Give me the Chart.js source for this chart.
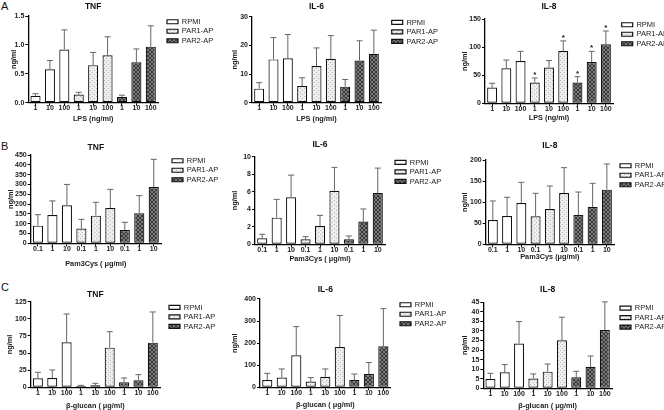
<!DOCTYPE html>
<html><head><meta charset="utf-8">
<script src="https://cdn.jsdelivr.net/npm/chart.js@4.4.1/dist/chart.umd.min.js"></script>
<style>
html,body{margin:0;padding:0;background:#fff;overflow:hidden;width:664px;height:410px;position:relative}
canvas{position:absolute}
.lt{position:absolute;font:11px 'Liberation Sans',Arial,sans-serif;color:#111;line-height:11px}
</style></head><body>
<div class="lt" style="left:1px;top:1px">A</div>
<div class="lt" style="left:1px;top:141px">B</div>
<div class="lt" style="left:1px;top:282px">C</div>
<script>
// ---------- data ----------
const groups = ['RPMI', 'PAR1-AP', 'PAR2-AP'];
const lpsDoses = ['1', '10', '100'];
const pamDoses = ['0.1', '1', '10'];
const glucanDoses = ['1', '10', '100'];

const lpsTnfMean = [0.12, 0.58, 0.92, 0.14, 0.65, 0.82, 0.10, 0.70, 0.97];
const lpsTnfErr  = [0.035, 0.15, 0.34, 0.04, 0.22, 0.32, 0.03, 0.23, 0.36];
const lpsIl6Mean = [4.9, 15.1, 15.5, 5.8, 12.8, 15.3, 5.6, 14.7, 17.1];
const lpsIl6Err  = [2.1, 7.6, 8.3, 2.9, 6.3, 8.1, 2.5, 6.9, 8.2];
const lpsIl8Mean = [27.9, 62.3, 75.3, 36.8, 63.5, 93, 36.8, 73.5, 105];
const lpsIl8Err  = [7.7, 14.7, 17.2, 8.2, 12.5, 18, 10.6, 19, 23.7];
const lpsIl8Stars = [0, 0, 0, 1, 0, 1, 1, 1, 1];

const pamTnfMean = [90, 144, 194, 75, 141, 180, 68, 153, 287];
const pamTnfErr  = [56, 72, 106, 47, 68, 95, 39, 90, 141];
const pamIl6Mean = [0.68, 3.04, 5.36, 0.57, 2.09, 6.12, 0.57, 2.59, 5.86];
const pamIl6Err  = [0.46, 2.09, 2.54, 0.30, 1.21, 2.66, 0.38, 1.44, 2.84];
const pamIl8Mean = [57.7, 67.2, 98, 66.4, 83.8, 121.7, 69.6, 88.5, 129.6];
const pamIl8Err  = [45.1, 44.3, 49, 54.6, 54.5, 60.1, 54.4, 56.2, 60.9];

const gluTnfMean = [13.1, 13.6, 65.7, 1.9, 2.9, 57.9, 7.3, 10.2, 65.2];
const gluTnfErr  = [8.8, 11.7, 41.3, 1.0, 2.9, 23.3, 6.3, 8.3, 44.8];
const gluIl6Mean = [33, 44, 145, 26, 48, 183, 33, 60, 186];
const gluIl6Err  = [30, 39, 130, 18, 35, 142, 27, 52, 170];
const gluIl8Mean = [4.9, 8.4, 23.4, 5.1, 8.7, 25.1, 5.8, 11.3, 30.5];
const gluIl8Err  = [2.95, 4.0, 11.5, 2.4, 4.0, 12.1, 3.1, 5.6, 14.7];

const lpsTnfTicks = ['0.0', '0.5', '1.0', '1.5'];
const lpsIl6Ticks = ['0', '10', '20', '30'];
const lpsIl8Ticks = ['0', '50', '100', '150'];
const pamTnfTicks = ['0', '50', '100', '150', '200', '250', '300', '350', '400', '450'];
const pamIl6Ticks = ['0', '2', '4', '6', '8', '10'];
const pamIl8Ticks = ['0', '50', '100', '150', '200'];
const gluTnfTicks = ['0', '25', '50', '75', '100', '125'];
const gluIl6Ticks = ['0', '100', '200', '300', '400'];
const gluIl8Ticks = ['0', '5', '10', '15', '20', '25', '30', '35', '40', '45'];

const lpsAxisTitle = 'LPS (ng/ml)';
const pamAxisTitle = 'Pam3Cys ( μg/ml)';
const pamAxisTitle2 = 'Pam3Cys (μg/ml)';
const gluAxisTitle = 'β-glucan ( μg/ml)';
const yAxisTitle = 'ng/ml';

// ---------- layout (pixel geometry of each panel) ----------
const geom = [
  {L:0,   T:0,   axisX:28.3,  right:158,   top:16,    bottom:102.7, boxX:167,   titleY:7,     ylabX:14,  xlabY:118.3},
  {L:220, T:0,   axisX:252,   right:381,   top:16.7,  bottom:102.7, boxX:391.7, titleY:7,     ylabX:235, xlabY:118.3},
  {L:440, T:0,   axisX:485,   right:613,   top:19,    bottom:103.3, boxX:621.7, titleY:7,     ylabX:465, xlabY:117.7},
  {L:0,   T:130, axisX:30.7,  right:161,   top:155,   bottom:243.3, boxX:172,   titleY:147.3, ylabX:11,  xlabY:263.3},
  {L:220, T:130, axisX:255,   right:385,   top:156.7, bottom:244.3, boxX:395,   titleY:145,   ylabX:235, xlabY:258.3},
  {L:440, T:130, axisX:485.7, right:614,   top:160,   bottom:244.3, boxX:620,   titleY:145.7, ylabX:465, xlabY:256.5},
  {L:0,   T:270, axisX:30.7,  right:160,   top:301.7, bottom:387.3, boxX:169,   titleY:295,   ylabX:10,  xlabY:406},
  {L:220, T:270, axisX:260,   right:390.6, top:299,   bottom:387.3, boxX:400,   titleY:289.3, ylabX:235, xlabY:405},
  {L:440, T:270, axisX:483.3, right:612,   top:302.3, bottom:388.3, boxX:620,   titleY:290,   ylabX:465, xlabY:406}
];

const panels = [
  {title:'TNF',  mean:lpsTnfMean, err:lpsTnfErr, ticks:lpsTnfTicks, doses:lpsDoses, xTitle:lpsAxisTitle, stars:null},
  {title:'IL-6', mean:lpsIl6Mean, err:lpsIl6Err, ticks:lpsIl6Ticks, doses:lpsDoses, xTitle:lpsAxisTitle, stars:null},
  {title:'IL-8', mean:lpsIl8Mean, err:lpsIl8Err, ticks:lpsIl8Ticks, doses:lpsDoses, xTitle:lpsAxisTitle, stars:lpsIl8Stars},
  {title:'TNF',  mean:pamTnfMean, err:pamTnfErr, ticks:pamTnfTicks, doses:pamDoses, xTitle:pamAxisTitle, stars:null},
  {title:'IL-6', mean:pamIl6Mean, err:pamIl6Err, ticks:pamIl6Ticks, doses:pamDoses, xTitle:pamAxisTitle, stars:null},
  {title:'IL-8', mean:pamIl8Mean, err:pamIl8Err, ticks:pamIl8Ticks, doses:pamDoses, xTitle:pamAxisTitle2, stars:null},
  {title:'TNF',  mean:gluTnfMean, err:gluTnfErr, ticks:gluTnfTicks, doses:glucanDoses, xTitle:gluAxisTitle, stars:null},
  {title:'IL-6', mean:gluIl6Mean, err:gluIl6Err, ticks:gluIl6Ticks, doses:glucanDoses, xTitle:gluAxisTitle, stars:null},
  {title:'IL-8', mean:gluIl8Mean, err:gluIl8Err, ticks:gluIl8Ticks, doses:glucanDoses, xTitle:gluAxisTitle, stars:null}
];

// ---------- styles ----------
const FONT = "'Liberation Sans', Arial, sans-serif";
Chart.defaults.font.family = FONT;
Chart.defaults.color = '#222';

function makePattern(bg, fg, kind) {
  const c = document.createElement('canvas');
  c.width = 4; c.height = 4;
  const x = c.getContext('2d');
  x.fillStyle = bg; x.fillRect(0, 0, 4, 4);
  x.fillStyle = fg;
  if (kind === 'dots') {
    x.fillRect(0, 0, 1, 1); x.fillRect(2, 2, 1, 1);
  } else {
    for (let i = 0; i < 4; i++) { x.fillRect(i, i, 1, 1); x.fillRect(3 - i, i, 1, 1); }
  }
  return x.createPattern(c, 'repeat');
}
const fills = ['#ffffff', makePattern('#eeeeee', '#b8b8b8', 'dots'), makePattern('#7a7a7a', '#3a3a3a', 'hatch')];

const TITLE_SIZE = 8.5, AXIS_SIZE = 7.3, TICK_SIZE = 7, LEG_SIZE = 7.5, LEG_PAD = 2, LEG_BOX = 11;

const errorBars = {
  id: 'errorBars',
  afterDatasetsDraw(chart) {
    const ctx = chart.ctx, y = chart.scales.y;
    chart.data.datasets.forEach((ds, di) => {
      const meta = chart.getDatasetMeta(di);
      meta.data.forEach((bar, i) => {
        const v = ds.data[i];
        if (v == null) return;
        const top = y.getPixelForValue(v + ds.errors[i]);
        const half = bar.width * 0.3;
        ctx.save();
        ctx.strokeStyle = '#666';
        ctx.lineWidth = 1;
        ctx.beginPath();
        ctx.moveTo(bar.x, bar.y);
        ctx.lineTo(bar.x, top);
        ctx.moveTo(bar.x - half, top);
        ctx.lineTo(bar.x + half, top);
        ctx.stroke();
        if (ds.stars && ds.stars[i]) {
          ctx.fillStyle = '#111';
          ctx.font = 'bold 8px ' + FONT;
          ctx.textAlign = 'center';
          ctx.textBaseline = 'alphabetic';
          ctx.fillText('*', bar.x, top - 1);
        }
        ctx.restore();
      });
    });
  }
};

panels.forEach((p, k) => {
  const g = geom[k];
  const legendLeft = g.boxX - LEG_PAD;
  const W = Math.round(legendLeft + 52 - g.L);
  const H = Math.round(g.xlabY + AXIS_SIZE * 0.6 - g.T);
  const cv = document.createElement('canvas');
  cv.width = W; cv.height = H;
  cv.style.left = g.L + 'px'; cv.style.top = g.T + 'px';
  document.body.appendChild(cv);

  const labels = [].concat(p.doses, p.doses, p.doses);
  const pick = (arr, gi) => arr.map((v, i) => (Math.floor(i / 3) === gi ? v : null));
  const datasets = groups.map((name, gi) => ({
    label: name,
    data: pick(p.mean, gi),
    errors: pick(p.err, gi),
    stars: p.stars ? pick(p.stars, gi) : null,
    backgroundColor: fills[gi],
    borderColor: '#111',
    borderWidth: 1.2,
    borderSkipped: false,
    barPercentage: 0.7,
    categoryPercentage: 1,
    grouped: false
  }));
  const tickVals = p.ticks.map(Number);
  const titleHalf = TITLE_SIZE * 0.6;
  const padTop = g.titleY - titleHalf - g.T;
  const titleBottom = g.top - g.titleY - titleHalf;
  const gap = legendLeft - g.right;
  const legendW = g.L + W - legendLeft;
  const xH = g.T + H - g.bottom;

  new Chart(cv, {
    type: 'bar',
    data: { labels, datasets },
    plugins: [errorBars],
    options: {
      responsive: false,
      animation: false,
      events: [],
      layout: { padding: { top: padTop, left: 0, right: 0, bottom: 0 } },
      plugins: {
        tooltip: { enabled: false },
        title: {
          display: true, text: p.title, fullSize: false, color: '#111',
          font: { size: TITLE_SIZE, weight: 'bold' },
          padding: { top: 0, bottom: titleBottom }
        },
        legend: {
          position: 'right', align: 'start', fullSize: false, maxWidth: legendW,
          labels: { boxWidth: LEG_BOX, boxHeight: 4, padding: LEG_PAD, color: '#222', font: { size: LEG_SIZE } }
        }
      },
      scales: {
        x: {
          type: 'category', offset: true,
          grid: { display: true, drawOnChartArea: false, offset: false, tickLength: 3, color: '#000', lineWidth: 1 },
          border: { display: true, color: '#000', width: 1.3 },
          ticks: { font: { size: TICK_SIZE, weight: 'bold' }, color: '#222', padding: -1.5, maxRotation: 0, autoSkip: false },
          title: { display: true, text: p.xTitle, color: '#222', font: { size: AXIS_SIZE, weight: 'bold' }, padding: { top: 0, bottom: 0 } },
          afterFit(s) { s.height = xH; }
        },
        y: {
          type: 'linear', min: tickVals[0], max: tickVals[tickVals.length - 1],
          afterBuildTicks(s) { s.ticks = tickVals.map(v => ({ value: v })); },
          grid: { display: true, drawOnChartArea: false, tickLength: 3, color: '#000', lineWidth: 1 },
          border: { display: true, color: '#000', width: 1.3 },
          ticks: { font: { size: TICK_SIZE, weight: 'bold' }, color: '#222', padding: 1, autoSkip: false,
                   callback: (v, i) => p.ticks[i] },
          title: { display: true, text: yAxisTitle, color: '#222', font: { size: AXIS_SIZE, weight: 'bold' },
                   padding: { top: g.ylabX - g.L - AXIS_SIZE * 0.6, bottom: 0 } },
          afterFit(s) { s.width = g.axisX - g.L; }
        },
        gap: {
          type: 'linear', position: 'right', display: true, min: 0, max: 1,
          grid: { display: false }, border: { display: false }, ticks: { display: false },
          afterFit(s) { s.width = gap; }
        }
      }
    }
  });
});
</script>
</body></html>
